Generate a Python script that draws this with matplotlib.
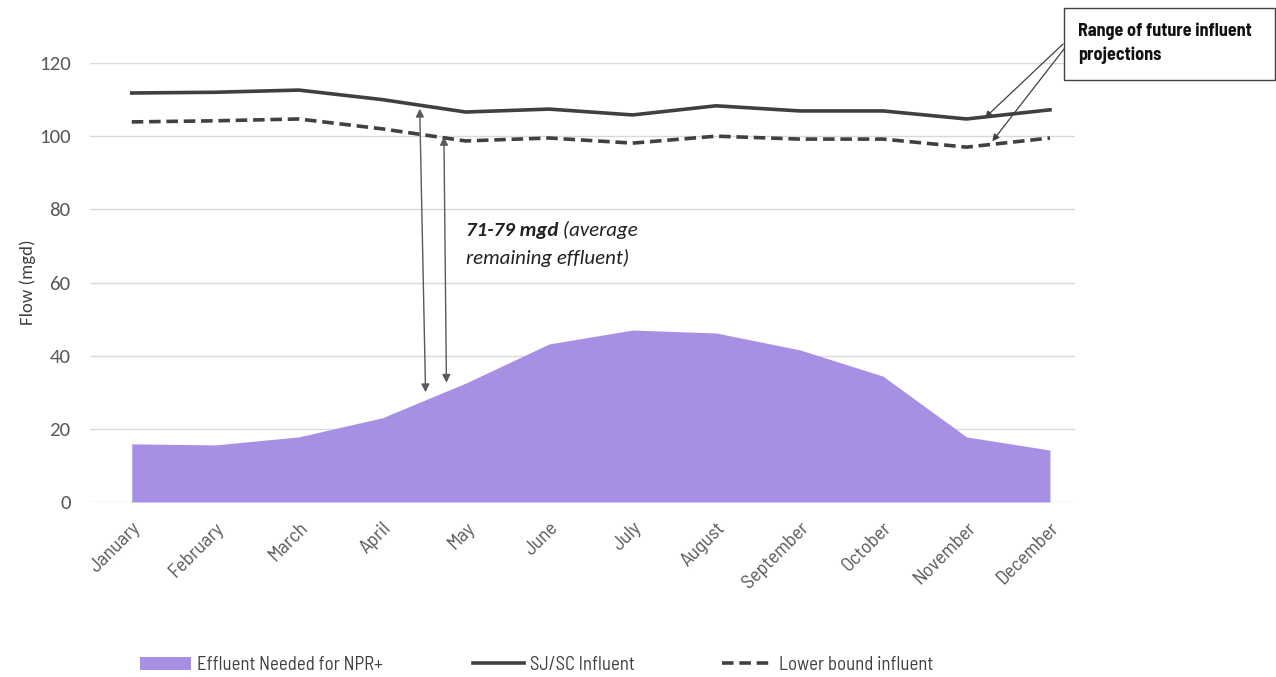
import matplotlib
matplotlib.use("Agg")
import matplotlib.pyplot as plt
from matplotlib import font_manager
from matplotlib.patches import Rectangle

months = ["January", "February", "March", "April", "May", "June", "July",
          "August", "September", "October", "November", "December"]
effluent_npr = [15.9, 15.6, 17.8, 23.0, 32.5, 43.2, 47.0, 46.2, 41.6, 34.4, 17.8, 14.2]
sjsc_influent = [111.8, 112.0, 112.6, 110.0, 106.6, 107.4, 105.8, 108.3, 106.9, 106.9, 104.7, 107.2]
lower_bound = [103.9, 104.2, 104.7, 102.0, 98.7, 99.5, 98.1, 100.0, 99.2, 99.2, 97.0, 99.5]
yticks = [0, 20, 40, 60, 80, 100, 120]

avail = {f.name for f in font_manager.fontManager.ttflist}


def pick(cands):
    for c in cands:
        if c in avail:
            return c
    return "DejaVu Sans"


narrow = pick(["Barlow Semi Condensed", "Roboto Condensed", "Archivo Narrow",
               "Asap Condensed", "Liberation Sans Narrow"])
body = pick(["Carlito", "Lato", "Open Sans"])

fig = plt.figure(figsize=(12.76, 6.77), dpi=100)
ax = fig.add_axes([90/1276, 1-502/677, (1075-90)/1276, (502-63)/677])

x = list(range(len(months)))
purple = "#a78fe3"
dark = "#404040"

area = ax.fill_between(x, 0, effluent_npr, color=purple, linewidth=0, zorder=2,
                       label="Effluent Needed for NPR+")
l1, = ax.plot(x, sjsc_influent, color=dark, lw=2.6, zorder=3, label="SJ/SC Influent",
              clip_on=False)
l2, = ax.plot(x, lower_bound, color=dark, lw=2.6, ls=(0, (3.2, 1.6)), zorder=3,
              label="Lower bound influent", clip_on=False)

ax.set_xlim(-0.5, 11.3)
ax.set_ylim(0, 120)
ax.set_yticks(yticks)
ax.grid(axis="y", color="#d9d9d9", lw=1.0, zorder=0)
ax.set_axisbelow(True)
for s in ax.spines.values():
    s.set_visible(False)
ax.tick_params(axis="both", length=0)
ax.tick_params(axis="y", pad=14, labelsize=15, labelcolor="#595959")
for lbl in ax.get_yticklabels():
    lbl.set_fontfamily(body)

ax.set_xticks(x)
ax.set_xticklabels(months, rotation=45, ha="right", va="top",
                   rotation_mode="anchor", fontsize=14.5, color="#595959",
                   fontfamily=narrow)
ax.tick_params(axis="x", pad=12)
ax.set_ylabel("Flow (mgd)", fontsize=13.5, color="#404040", fontfamily=body, labelpad=2)

# double arrows showing remaining effluent
ax.annotate("", xy=(3.45, 107.5), xytext=(3.52, 30.0),
            arrowprops=dict(arrowstyle="<|-|>", color="#595959", lw=1.0,
                            mutation_scale=12, shrinkA=0, shrinkB=0))
ax.annotate("", xy=(3.74, 99.8), xytext=(3.77, 32.6),
            arrowprops=dict(arrowstyle="<|-|>", color="#595959", lw=1.0,
                            mutation_scale=12, shrinkA=0, shrinkB=0))
t1 = ax.text(4.0, 74.3, "71-79 mgd", fontsize=15, color="#222222",
             fontfamily=body, fontweight="bold", style="italic", va="center")
ax.annotate(" (average", xy=(1, 0.5), xycoords=t1, va="center", ha="left",
            fontsize=15, color="#222222", fontfamily=body, style="italic")
ax.text(4.0, 66.6, "remaining effluent)", fontsize=15, color="#222222",
        fontfamily=body, style="italic", va="center")

# box annotation
fig.patches.append(Rectangle((1064/1276, 1-80/677), 211/1276, 72/677,
                             transform=fig.transFigure, facecolor="white",
                             edgecolor="#404040", lw=1.0, zorder=5))
fig.text(1078/1276, 1-43/677, "Range of future influent\nprojections",
         fontsize=13, fontweight="bold", fontfamily=narrow, color="#111111",
         va="center", ha="left", linespacing=1.5, zorder=6)
ax.annotate("", xy=(10.22, 105.0), xytext=(1063/1276, 1-44/677),
            textcoords="figure fraction",
            arrowprops=dict(arrowstyle="-|>", color="#404040", lw=0.9,
                            mutation_scale=10, shrinkA=0, shrinkB=0))
ax.annotate("", xy=(10.31, 98.6), xytext=(1064/1276, 1-49/677),
            textcoords="figure fraction",
            arrowprops=dict(arrowstyle="-|>", color="#404040", lw=0.9,
                            mutation_scale=10, shrinkA=0, shrinkB=0))

# legend entries placed individually
for handle, xpix in [(area, 140), (l1, 473), (l2, 722)]:
    leg = fig.legend([handle], [handle.get_label()], loc="center left",
                     bbox_to_anchor=(xpix/1276, 1-665/677), frameon=False,
                     handlelength=2.7, handletextpad=0.35, borderpad=0,
                     borderaxespad=0, prop={"family": narrow, "size": 13.5})
    for t in leg.get_texts():
        t.set_color("#404040")

fig.savefig("out.png", dpi=100)
